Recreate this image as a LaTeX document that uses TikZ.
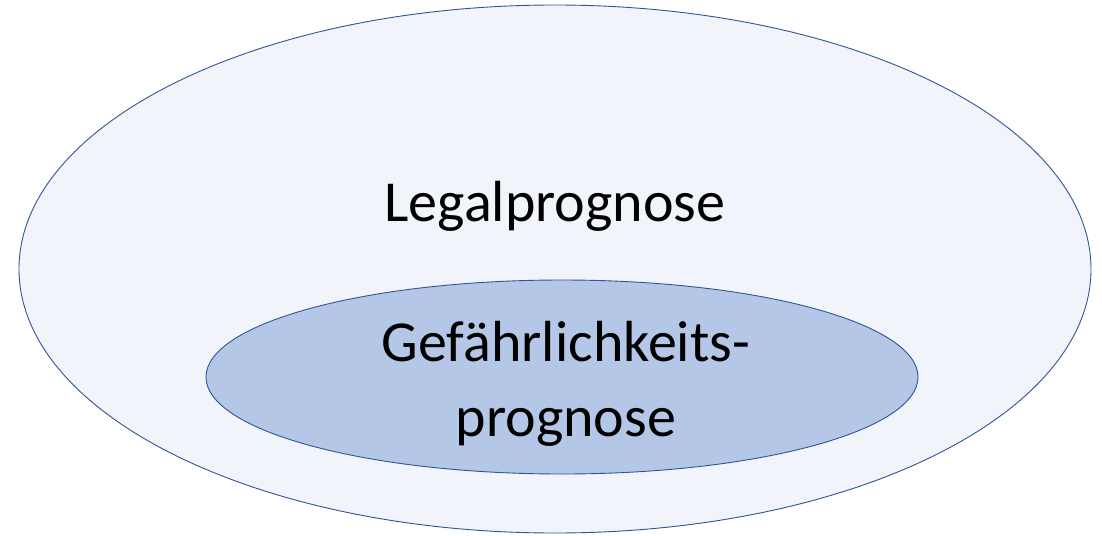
\documentclass[tikz,border=0pt]{standalone}
\usepackage{fontspec}
\setmainfont{Carlito}
\definecolor{outerfill}{HTML}{F1F4FA}
\definecolor{innerfill}{HTML}{B4C7E7}
\definecolor{edge}{HTML}{2F5597}
\begin{document}
\begin{tikzpicture}[x=1pt,y=-1pt,
  blob/.style={draw=edge,line width=0.9pt}]
\useasboundingbox (0,0) rectangle (1102,535);
\path[blob,fill=outerfill] (555,269) ellipse [x radius=536, y radius=264];
\path[blob,fill=innerfill] (562,377) ellipse [x radius=356, y radius=97];
\node[anchor=base,font=\fontsize{58}{75}\selectfont,inner sep=0] (outer) at (555,221) {Legalprognose};
\node[anchor=base,font=\fontsize{58}{75}\selectfont,inner sep=0,align=center] (inner) at (566,436) {Gefährlichkeits-\\prognose};
\end{tikzpicture}
\end{document}
